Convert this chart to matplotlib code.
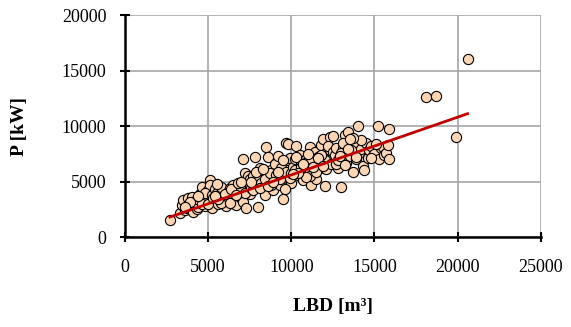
import numpy as np
import matplotlib
matplotlib.use('Agg')
import matplotlib.pyplot as plt

plt.rcParams['font.family'] = ['Liberation Serif', 'DejaVu Serif']

# LBD [m3] and P [kW]
lbd = [
    2700, 3300, 3400, 3500, 3600, 3700, 3800, 3900, 4000, 4100,
    4200, 4300, 4400, 4500, 4600, 4700, 4800, 4900, 5000, 5100,
    5100, 5200, 4300, 4600, 3900, 4800, 5000, 4400, 3600, 5200,
    5300, 5400, 5500, 5600, 5700, 5800, 5900, 6000, 6100, 6200,
    6300, 6400, 6500, 6600, 6700, 6800, 6900, 7000, 7100, 7100,
    7200, 7300, 7300, 7400, 7500, 7500, 5500, 5800, 6200, 6600,
    6900, 7200, 5600, 6000, 6400, 6800, 7000, 5400, 6300, 6700,
    7600, 7700, 7800, 7900, 8000, 8100, 8200, 8300, 8400, 8500,
    8600, 8700, 8800, 8900, 9000, 9100, 9200, 9300, 9400, 9500,
    9600, 9700, 9800, 9900, 10000, 7700, 8000, 8200, 8500, 8800,
    9000, 9300, 9600, 9800, 7600, 8100, 8400, 8700, 9100, 9400,
    9700, 9900, 7900, 8300, 8600, 8900, 9200, 9500, 10000, 9800,
    10100, 10200, 10300, 10400, 10500, 10600, 10700, 10800, 10900, 11000,
    11100, 11200, 11300, 11400, 11500, 11600, 11700, 11800, 11900, 12000,
    12100, 12200, 12300, 12400, 12500, 10200, 10500, 10800, 11100, 11400,
    11700, 12000, 12300, 10300, 10600, 10900, 11200, 11500, 11800, 12100,
    12400, 10400, 10700, 11000, 11300, 11600, 11900, 12200, 12500, 10100,
    12600, 12700, 12800, 12900, 13000, 13100, 13200, 13300, 13400, 13500,
    13600, 13700, 13800, 13900, 14000, 14100, 14200, 14300, 14400, 14500,
    14600, 14700, 14800, 14900, 15000, 15200, 15300, 15400, 15500, 15600,
    15700, 15800, 15900, 15900, 12700, 13000, 13300, 13600, 13900, 14200,
    12800, 13100, 13400, 13700, 12900, 13200, 13500, 14800, 15100,
    18100, 18700, 19900, 20600,
]
power = [
    1500, 2200, 2900, 3300, 2400, 2600, 3500, 2900, 3600, 2300,
    3100, 2500, 2700, 3900, 4500, 3300, 2800, 3600, 4200, 5100,
    4700, 2600, 3400, 3000, 3200, 4000, 3000, 3700, 2700, 3800,
    3500, 4300, 4000, 3000, 3800, 4500, 3400, 3300, 2800, 4100,
    4400, 3700, 4700, 3000, 2900, 4300, 3600, 4100, 3200, 7000,
    5800, 2600, 4600, 5500, 3900, 5200, 4800, 3100, 3600, 4200,
    4600, 4000, 3400, 3900, 4300, 4900, 5000, 3700, 3100, 3800,
    4400, 5500, 7200, 4800, 2700, 6200, 5700, 4500, 3800, 8100,
    7200, 5300, 6000, 4200, 6600, 5000, 7300, 4700, 5800, 3400,
    6400, 8500, 5500, 7100, 4900, 4200, 5100, 4900, 5600, 4700,
    5400, 5200, 4300, 6000, 5000, 4400, 5200, 5800, 5600, 6200,
    5900, 5300, 5900, 6100, 4600, 5000, 5900, 6900, 5800, 8400,
    6300, 7000, 8200, 5600, 7400, 6800, 5100, 6400, 7000, 6000,
    8100, 4700, 6600, 7700, 5200, 7200, 6200, 8300, 8800, 4600,
    7600, 6500, 9000, 7000, 9100, 6000, 5900, 6700, 5500, 6800,
    7300, 6900, 7800, 7200, 6300, 5400, 7000, 5900, 7400, 6100,
    6600, 5800, 6600, 7500, 6300, 7100, 6400, 8200, 7700, 5700,
    7400, 8000, 6200, 7000, 4500, 8000, 9200, 6700, 9500, 7300,
    8400, 5900, 8600, 7000, 10000, 7600, 7900, 6400, 6000, 8500,
    7100, 7800, 8200, 7300, 7500, 10000, 7000, 8000, 8100, 7400,
    7600, 8300, 9700, 7000, 6600, 7600, 8300, 7800, 7200, 8700,
    6900, 8500, 7900, 8900, 7300, 6500, 8800, 7100, 8400,
    12600, 12700, 9000, 16000,
]

trend_slope = 0.52
trend_intercept = 400

fig = plt.figure(figsize=(5.71, 3.27), dpi=100)
ax = fig.add_axes([0.219, 0.275, 0.728, 0.679])

ax.scatter(lbd, power, s=54, facecolor='#FCD5B4', edgecolor='black',
           linewidth=0.8, zorder=3)

xl = np.array([min(lbd), max(lbd)])
ax.plot(xl, trend_slope * xl + trend_intercept, color='#C00000', lw=2, zorder=4)

ax.set_xlim(0, 25000)
ax.set_ylim(0, 20000)
ax.set_xticks(range(0, 25001, 5000))
ax.set_yticks(range(0, 20001, 5000))
ax.grid(True, color='#A6A6A6', lw=1.2, zorder=0)
ax.set_axisbelow(True)

for s in ['top', 'right']:
    ax.spines[s].set_visible(False)
for s in ['left', 'bottom']:
    ax.spines[s].set_linewidth(1.8)
ax.tick_params(direction='inout', length=7, width=1.5, labelsize=13)
ax.tick_params(axis='y', pad=10)
ax.tick_params(axis='x', pad=12)

ax.set_xlabel('LBD [m³]', fontsize=14, fontweight='bold', labelpad=16)
ax.set_ylabel('P [kW]', fontsize=14, fontweight='bold', labelpad=24)

fig.savefig('out.png', dpi=100)
